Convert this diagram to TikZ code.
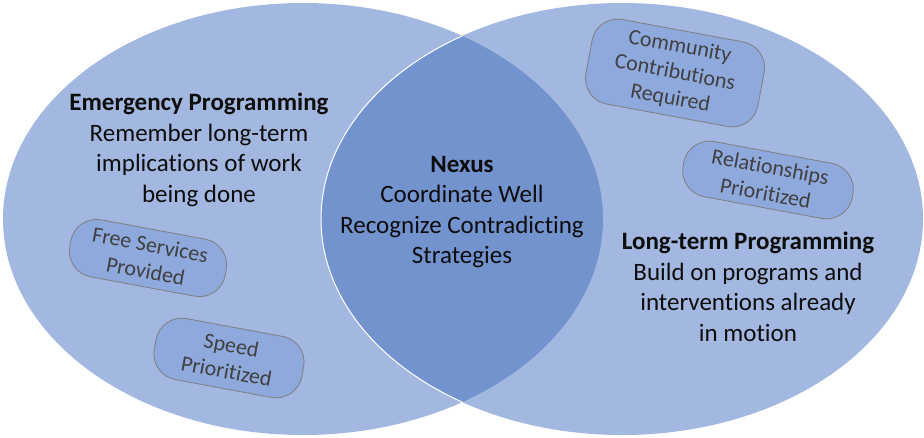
\documentclass[tikz,border=0pt]{standalone}
\usepackage{fontspec}
\setmainfont{Carlito}[Ligatures={NoCommon}]
\definecolor{light}{HTML}{A2B8E0}
\definecolor{dark}{HTML}{7393CF}
\definecolor{boxfill}{HTML}{8EA9DB}
\definecolor{boxline}{HTML}{7F7F7F}
\definecolor{boxtext}{HTML}{404040}
\definecolor{maintext}{HTML}{0D0D0D}
\begin{document}
\begin{tikzpicture}[x=1pt,y=-1pt,
  maintxt/.style={align=center,text=maintext,font=\fontsize{25}{30.5}\selectfont},
  tag/.style={draw=boxline,line width=0.8pt,fill=boxfill,rounded corners=26pt,rotate=-10.5,
     inner sep=0pt,align=center,text=boxtext,font=\fontsize{22}{26.5}\selectfont}]
\useasboundingbox (0,0) rectangle (924,437);
\fill[white] (0,0) rectangle (924,437);
\fill[light] (303,219) ellipse [x radius=300, y radius=216];
\fill[light] (622,219) ellipse [x radius=301, y radius=216];
\begin{scope}
  \clip (303,219) ellipse [x radius=300, y radius=216];
  \fill[dark] (622,219) ellipse [x radius=301, y radius=216];
  \draw[white,line width=1pt] (622,219) ellipse [x radius=301, y radius=216];
\end{scope}
\node[maintxt] (emerg) at (199,150) {\textbf{Emergency Programming}\\Remember long-term\\implications of work\\being done};
\node[maintxt] (nexus) at (462,212) {\textbf{Nexus}\\Coordinate Well\\Recognize Contradicting\\Strategies};
\node[maintxt] (longt) at (748,287) {\textbf{Long-term Programming}\\Build on programs and\\interventions already\\in motion};
\node[tag,minimum width=175pt,minimum height=86pt] (comm) at (675,73) {Community\\Contributions\\Required};
\node[tag,minimum width=172pt,minimum height=56pt] (rel) at (768,180) {Relationships\\Prioritized};
\node[tag,minimum width=158pt,minimum height=58pt] (free) at (148,258) {Free Services\\Provided};
\node[tag,minimum width=150pt,minimum height=62pt] (speed) at (229,358) {Speed\\Prioritized};
\end{tikzpicture}
\end{document}
